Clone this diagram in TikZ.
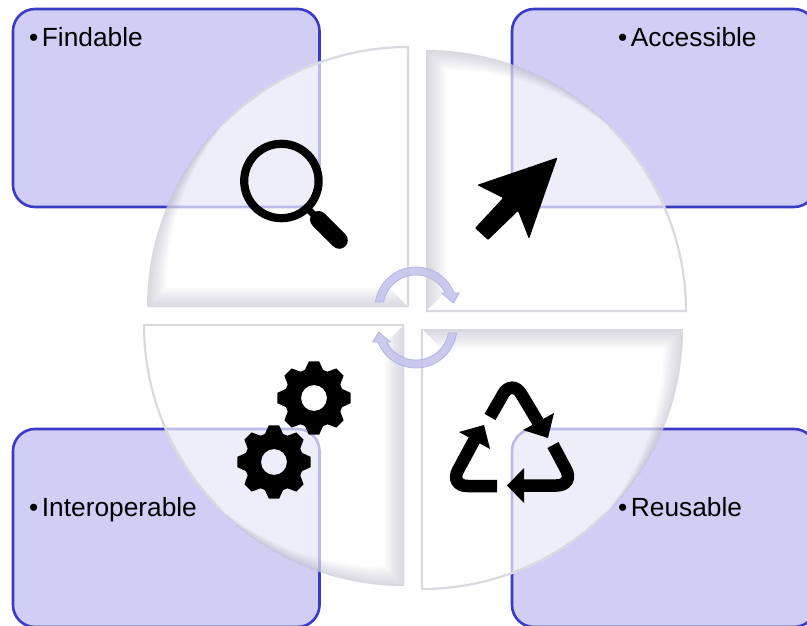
\documentclass[tikz,border=0pt]{standalone}
\usepackage{fontspec}
\setmainfont{Liberation Sans}
\definecolor{boxblue}{RGB}{208,206,245}
\definecolor{boxline}{RGB}{58,58,198}
\definecolor{rimgray}{RGB}{216,218,224}
\definecolor{shadegray}{RGB}{150,150,178}
\definecolor{cyclefill}{RGB}{198,198,238}
\definecolor{cycleline}{RGB}{176,176,226}
\tikzset{
  fairbox/.style={draw=boxline,fill=boxblue,line width=2.6,rounded corners=22},
  fairtext/.style={anchor=base west,inner sep=0,font=\fontsize{26.3}{30}\selectfont},
  piefill/.style={fill=white,fill opacity=.66},
  pieshade/.style={fill=shadegray,fill opacity=.018},
  pierim/.style={draw=rimgray,line width=2.2,line join=miter},
  cyclearrow/.style={fill=cyclefill,draw=cycleline,line width=.8,opacity=.92},
  recycleline/.style={line width=12.5,rounded corners=18},
  gearicon/.pic={
    \fill[even odd rule] (-8:37)
      \foreach \t in {0,45,...,315} {-- ({\t-8}:37) -- ({\t+8}:37) -- ({\t+18}:29.5) -- ({\t+27}:29.5)}
      -- cycle (0,0) circle (13);
  },
}
\begin{document}
\begin{tikzpicture}[x=1pt,y=-1pt]
\clip (0,0) rectangle (807,626);

% boxes
\draw[fairbox] (13,9) rectangle (319.5,207);
\draw[fairbox] (512,9) rectangle (816,207);
\draw[fairbox] (13,429) rectangle (319.5,627);
\draw[fairbox] (512,429) rectangle (816,627);

% pies: centre / start angle / shift of the bevel / mitre of the bevel
\foreach \cx/\cy/\a/\sx/\sy/\ox/\oy in {408/307/-180/1/-1/-1/-1,
                                        426/311/-90/1/1/1/-1,
                                        422/329/0/-1/1/1/1,
                                        404/325/90/-1/-1/-1/1} {
  \fill[piefill] (\cx,\cy) -- ++(\a:261) arc[start angle=\a,end angle=\a+90,radius=261] -- cycle;
  \begin{scope}
    \clip (\cx,\cy) -- ++(\a:261) arc[start angle=\a,end angle=\a+90,radius=261] -- cycle;
    \foreach \k in {1,...,20}
      \fill[pieshade,even odd rule] (0,0) rectangle (807,626)
        (\cx,\cy) -- ({\cx+\k*\ox},{\cy+\k*\oy})
        -- ({\cx+\k*\sx+261*cos(\a)},{\cy+\k*\sy+261*sin(\a)})
        arc[start angle=\a,end angle=\a+90,radius=261] -- cycle;
  \end{scope}
  \draw[pierim] (\cx,\cy) ++({\a+45}:260) arc[start angle=\a+45,end angle=\a+90,radius=260] -- (\cx,\cy);
}

% arrows in the middle
\foreach \r in {0,180}
  \filldraw[cyclearrow,rotate around={\r:(416,317.5)}] (416,308) ++(188.4:41)
    arc[start angle=188.4,end angle=338.5,radius=41]
    -- (459.3,293) -- (453.3,303) -- (441.7,293) -- (445.4,293)
    arc[start angle=333,end angle=190.5,radius=33] -- cycle;

% magnifier
\draw[line width=8.2] (281.4,181) circle (37.2);
\draw[line width=7] (306,207) -- (320,221);
\draw[line width=17,line cap=round] (318.5,219.5) -- (339.3,240.3);

% cursor
\fill[rounded corners=1] (557.5,157.5) -- (477,185) -- (503,198) -- (475,228) -- (488,240)
  -- (518,211) -- (529,239) -- cycle;

% gears
\pic at (314,398) {gearicon};
\pic at (274,462) {gearicon};

% recycling sign
\draw[recycleline] (490,417) -- (512,378.6) -- (538,422);
\fill (548,438) -- (554,413) -- (523,430) -- cycle;
\draw[recycleline] (553,445) -- (574.5,485.5) -- (522,485.5);
\fill (507,485.5) -- (524,468) -- (524,503) -- cycle;
\draw[recycleline] (497,486) -- (449.5,486) -- (476,437);
\fill (484,425) -- (459,432) -- (490,449) -- cycle;

% text
\node[fairtext] (findable) at (29,46.5) {•\hspace{3.5pt}Findable};
\node[fairtext] (accessible) at (618,46.5) {•\hspace{3.5pt}Accessible};
\node[fairtext] (interoperable) at (29,516.5) {•\hspace{3.5pt}Interoperable};
\node[fairtext] (reusable) at (618,516.5) {•\hspace{3.5pt}Reusable};
\end{tikzpicture}
\end{document}
